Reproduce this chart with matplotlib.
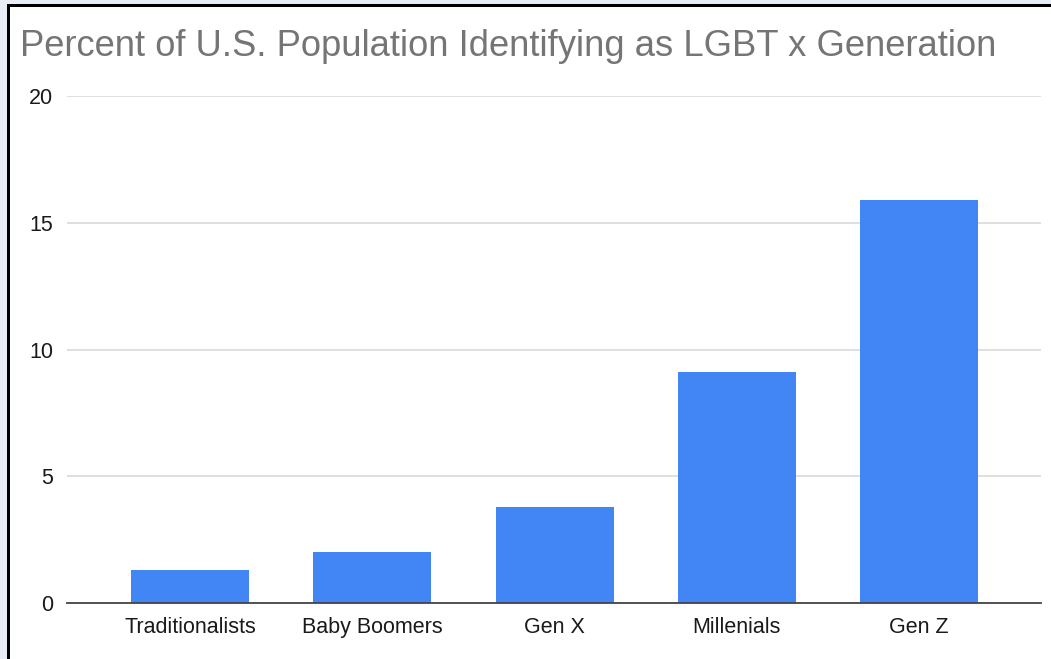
import matplotlib
matplotlib.use("Agg")
import matplotlib.pyplot as plt
from matplotlib.patches import Rectangle

generations = ["Traditionalists", "Baby Boomers", "Gen X", "Millenials", "Gen Z"]
lgbt_percent = [1.3, 2.0, 3.8, 9.1, 15.9]
y_ticks = [0, 5, 10, 15, 20]

W, H = 1051, 659
fig = plt.figure(figsize=(W / 100, H / 100), dpi=100)
fig.patch.set_facecolor("white")
plt.rcParams["font.family"] = ["Liberation Sans", "DejaVu Sans"]

# page background strip and black frame around the chart
fig.patches.append(Rectangle((0, 0), 7 / W, 1, transform=fig.transFigure,
                             facecolor="#e8edf5", edgecolor="none", zorder=0))
fig.patches.append(Rectangle((0, 1 - 4 / H), 1, 4 / H, transform=fig.transFigure,
                             facecolor="#e8edf5", edgecolor="none", zorder=0))
fig.patches.append(Rectangle((7 / W, 0), 2.5 / W, 1 - 4 / H, transform=fig.transFigure,
                             facecolor="black", edgecolor="none", zorder=1))
fig.patches.append(Rectangle((7 / W, 1 - 6.5 / H), 1 - 7 / W, 2.5 / H, transform=fig.transFigure,
                             facecolor="black", edgecolor="none", zorder=1))

left, right = 67, 1041
top, bottom = 96, 603
ax = fig.add_axes([left / W, 1 - bottom / H, (right - left) / W, (bottom - top) / H])
ax.set_facecolor("white")

x = list(range(len(generations)))
ax.bar(x, lgbt_percent, width=0.648, color="#4285F4", zorder=3)

ax.set_xlim(-0.676, 4.67)
ax.set_ylim(0, 20)
ax.set_yticks(y_ticks)
ax.set_yticklabels([str(t) for t in y_ticks], fontsize=15.5, color="#1a1a1a")
ax.set_xticks(x)
ax.set_xticklabels(generations, fontsize=15.5, color="#1a1a1a")
ax.tick_params(axis="both", length=0)
ax.tick_params(axis="y", pad=10)
ax.tick_params(axis="x", pad=10)

ax.grid(axis="y", color="#d9d9d9", linewidth=1.2, zorder=0)
for s in ["top", "right", "left"]:
    ax.spines[s].set_visible(False)
ax.spines["bottom"].set_color("#444444")
ax.spines["bottom"].set_linewidth(1.3)
ax.spines["bottom"].set_zorder(4)

fig.text(20 / W, 1 - 56 / H, "Percent of U.S. Population Identifying as LGBT x Generation",
         fontsize=26.2, color="#757575", ha="left", va="baseline")

fig.savefig("out.png", dpi=100, facecolor=fig.get_facecolor())
